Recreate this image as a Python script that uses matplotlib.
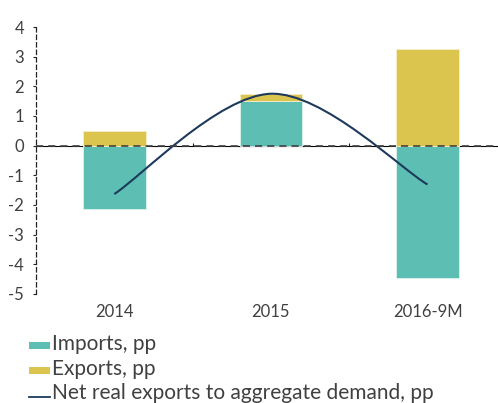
import numpy as np
import matplotlib
matplotlib.use("Agg")
import matplotlib.pyplot as plt
from matplotlib.path import Path
from matplotlib.patches import PathPatch, Patch, Rectangle
from matplotlib.lines import Line2D
from matplotlib.legend_handler import HandlerBase

categories = ["2014", "2015", "2016-9M"]
imports = [-2.13, 1.49, -4.46]
exports = [0.50, 0.26, 3.25]
net_exports = [-1.63, 1.75, -1.31]
yticks = [4, 3, 2, 1, 0, -1, -2, -3, -4, -5]

TEAL = "#5dbfb3"
YELLOW = "#dcc54e"
NAVY = "#1d3a5c"
TXT = "#404040"

plt.rcParams["font.family"] = ["Lato", "DejaVu Sans"]

fig = plt.figure(figsize=(4.98, 4.03), dpi=100)
ax = fig.add_axes([36 / 498, 1 - 294 / 403, 1 - 36 / 498, (294 - 27) / 403])

x = np.arange(len(categories))
w = 0.4
imp = np.array(imports)
exp_ = np.array(exports)
ax.bar(x, imp, width=w, color=TEAL, edgecolor="#dff3ef", linewidth=0.6, zorder=2)
base = np.where(imp > 0, imp, 0)
ax.bar(x, exp_, width=w, bottom=base, color=YELLOW, edgecolor="#f5efcc", linewidth=0.6, zorder=2)

# smoothed line (Catmull-Rom as cubic Bezier, like spreadsheet smoothing)
pts = np.column_stack([x, net_exports]).astype(float)
ext = np.vstack([pts[0], pts, pts[-1]])
verts = [tuple(pts[0])]
codes = [Path.MOVETO]
for i in range(1, len(ext) - 2):
    p0, p1, p2, p3 = ext[i - 1], ext[i], ext[i + 1], ext[i + 2]
    c1 = p1 + (p2 - p0) / 6
    c2 = p2 - (p3 - p1) / 6
    verts += [tuple(c1), tuple(c2), tuple(p2)]
    codes += [Path.CURVE4] * 3
ax.add_patch(PathPatch(Path(verts, codes), facecolor="none", edgecolor=NAVY, lw=1.5, zorder=3))

ax.axhline(0, color=TXT, lw=1.2, ls=(0, (4.3, 3)), zorder=4)

ax.set_xlim(-0.5, 2.45)
ax.set_ylim(-5, 4)
ax.set_yticks(yticks)
ax.set_yticklabels([str(v) for v in yticks])
ax.set_xticks(x)
ax.set_xticklabels(categories)
ax.tick_params(axis="x", length=0, pad=7, labelsize=12, labelcolor=TXT)
ax.tick_params(axis="y", length=2.5, width=0.8, pad=6, labelsize=12, labelcolor=TXT, color="#222222")
for s in ["top", "right", "bottom"]:
    ax.spines[s].set_visible(False)
ax.spines["left"].set_linestyle((0, (3.5, 2.5)))
ax.spines["left"].set_color("#222222")
ax.spines["left"].set_linewidth(0.9)

sec = ax.secondary_xaxis(5 / 9)
sec.set_xticks([0.5, 1.5])
sec.set_xticklabels(["", ""])
sec.tick_params(length=2.5, width=0.8, color="#222222")
sec.spines["bottom"].set_visible(False)


class BaselineHandler(HandlerBase):
    def create_artists(self, legend, orig_handle, xdescent, ydescent, width, height, fontsize, trans):
        if isinstance(orig_handle, Line2D):
            y = 0.12 * fontsize
            a = Line2D([-xdescent, -xdescent + width], [y, y], color=orig_handle.get_color(),
                       lw=orig_handle.get_linewidth(), transform=trans)
        else:
            a = Rectangle((-xdescent, 0.03 * fontsize), width, 0.34 * fontsize,
                          facecolor=orig_handle.get_facecolor(), edgecolor="none", transform=trans)
        return [a]


handles = [Patch(color=TEAL), Patch(color=YELLOW), Line2D([], [], color=NAVY, lw=1.3)]
labels = ["Imports, pp", "Exports, pp", "Net real exports to aggregate demand, pp"]
h = BaselineHandler()
fig.legend(handles, labels, loc="upper left", bbox_to_anchor=(29 / 498, 1 - 334 / 403),
           frameon=False, borderpad=0, borderaxespad=0, handlelength=1.0, handleheight=0.7,
           handletextpad=0.08, labelspacing=0.22, prop={"size": 15}, labelcolor=TXT,
           handler_map={Patch: h, Line2D: h})

fig.savefig("out.png", dpi=100)
